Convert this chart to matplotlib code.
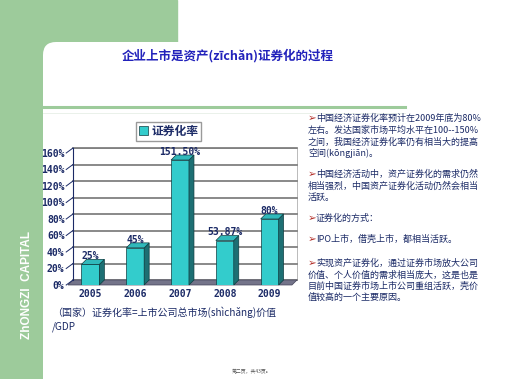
import matplotlib.pyplot as plt
from matplotlib.patches import Rectangle, FancyBboxPatch, Polygon
from matplotlib.lines import Line2D
import numpy as np

plt.rcParams['font.family'] = ['Noto Sans CJK SC', 'DejaVu Sans']

# data
years = ['2005', '2006', '2007', '2008', '2009']
rates = [25, 45, 151.5, 53.87, 80]
rate_labels = ['25%', '45%', '151.50%', '53.87%', '80%']
yticks = [0, 20, 40, 60, 80, 100, 120, 140, 160]
ytick_labels = ['%d%%' % t for t in yticks]
legend_label = '证券化率'

title = '企业上市是资产(zīchǎn)证券化的过程'
notes = [
    ['中国经济证券化率预计在2009年底为80%', '左右。发达国家市场平均水平在100--150%',
     '之间，我国经济证券化率仍有相当大的提高', '空间(kōngjiān)。'],
    ['中国经济活动中，资产证券化的需求仍然', '相当强烈，中国资产证券化活动仍然会相当', '活跃。'],
    ['证券化的方式：'],
    ['IPO上市，借壳上市，都相当活跃。'],
    ['实现资产证券化，通过证券市场放大公司', '价值、个人价值的需求相当庞大，这是也是',
     '目前中国证券市场上市公司重组活跃，壳价', '值较高的一个主要原因。'],
]
note_y = [[118, 130.5, 142, 153], [174, 186, 197], [218], [239], [263, 275, 286, 297]]

W, H = 505, 379
green = '#9dcb9b'
navy = '#1b2a66'
face = '#33cccc'
side = '#1d6f73'
top = '#30b9bb'


def fx(x):
    return x / W


def fy(y):
    return 1 - y / H


fig = plt.figure(figsize=(W / 100, H / 100), dpi=100)
fig.patch.set_facecolor('white')

# slide background
inch = fig.dpi_scale_trans
fig.add_artist(Rectangle((0, 0), 0.6, 3.79, transform=inch, color=green, zorder=-3))
fig.add_artist(Rectangle((0, 3.2), 1.77, 0.59, transform=inch, color=green, zorder=-3))
fig.add_artist(FancyBboxPatch((0.43, -1), 6, 4.37, boxstyle='round,pad=0,rounding_size=0.13',
                              transform=inch, fc='white', ec='none', zorder=-2))
fig.add_artist(Line2D([0.43, 4.05], [2.72, 2.72], transform=inch, color=green, lw=2.2, zorder=-1))
fig.add_artist(Line2D([0.43, 4.05], [2.66, 2.66], transform=inch, color='#e6efe6', lw=0.6, zorder=-1))

fig.text(fx(228), fy(56), title, ha='center', va='center', fontsize=9,
         weight='bold', color='#2222bb')
fig.text(fx(27), fy(285), 'ZhONGZI  CAPITAL', rotation=90, ha='center', va='center',
         color='white', fontsize=8.5, family='Liberation Sans', weight='bold')

# chart
ax = fig.add_axes([fx(68), fy(285), 224 / W, 132 / H])
ax.set_zorder(2)
ax.set_xlim(-0.5, 4.5)
ax.set_ylim(0, 160)
for s in ax.spines.values():
    s.set_visible(False)
ax.patch.set_alpha(0)

x = np.arange(len(years))
bw = 0.4
dx = 5 / (224 / 5)
dy = 5 / (132 / 160)

# back wall, floor, grid
ax.add_patch(Rectangle((-0.5 + dx, dy), 5, 160, fc='white', ec='#b0b0b0', lw=0.6,
                       clip_on=False, zorder=0))
for t in yticks:
    ax.plot([-0.5 + dx, 4.5 + dx], [t + dy, t + dy], color='#767676', lw=1.2,
            clip_on=False, zorder=1)
    ax.plot([-0.5 - 0.04, -0.5 + dx], [t, t + dy], color=navy, lw=0.7, clip_on=False, zorder=2)
ax.add_patch(Polygon([(-0.5, 0), (4.5, 0), (4.5 + dx, dy), (-0.5 + dx, dy)],
                     closed=True, fc='#74748a', ec='#44445a', lw=0.5, clip_on=False, zorder=1))
ax.plot([-0.5 + dx, -0.5 + dx], [dy, 160 + dy], color=navy, lw=0.8, clip_on=False, zorder=2)

# 3d bars
bars = ax.bar(x, rates, width=bw, color=face, edgecolor='#0f3c40', lw=0.5, zorder=3)
for xi, h in zip(x, rates):
    r = xi + bw / 2
    l = xi - bw / 2
    ax.add_patch(Polygon([(r, 0), (r + dx, dy), (r + dx, h + dy), (r, h)], closed=True,
                         fc=side, ec='#0f3c40', lw=0.5, clip_on=False, zorder=3))
    ax.add_patch(Polygon([(l, h), (r, h), (r + dx, h + dy), (l + dx, h + dy)], closed=True,
                         fc=top, ec='#0f3c40', lw=0.5, clip_on=False, zorder=3))

for xi, h, lbl in zip(x, rates, rate_labels):
    ax.annotate(lbl, (xi, h), xytext=(0, 6), textcoords='offset points', ha='center',
                va='center', family='DejaVu Sans Mono', weight='bold', fontsize=7,
                color=navy, zorder=5, annotation_clip=False)

ax.set_yticks(yticks, ytick_labels)
ax.set_xticks(x, years)
ax.tick_params(length=0)
ax.tick_params(axis='y', pad=2.5)
ax.tick_params(axis='x', pad=3)
for lab in ax.get_xticklabels() + ax.get_yticklabels():
    lab.set_family('DejaVu Sans Mono')
    lab.set_weight('bold')
    lab.set_fontsize(7)
    lab.set_color(navy)

leg = ax.legend([Rectangle((0, 0), 1, 1, fc=face, ec='#0f3c40', lw=0.5)], [legend_label],
                loc='center', bbox_to_anchor=(fx(168.5), fy(131.5)),
                bbox_transform=fig.transFigure, fancybox=False, framealpha=1,
                edgecolor='#9a9a9a', handlelength=0.8, handleheight=0.8,
                borderpad=0.25, handletextpad=0.3,
                prop=dict(family='Noto Sans CJK SC', weight='bold', size=8.5))
for t in leg.get_texts():
    t.set_color(navy)

# right notes
for para, ys in zip(notes, note_y):
    fig.text(fx(308), fy(ys[0]), '➢', ha='left', va='center', fontsize=7.5,
             family='DejaVu Sans', color='#b3302a')
    for i, (line, y) in enumerate(zip(para, ys)):
        fig.text(fx(316 if i == 0 else 308), fy(y), line, ha='left', va='center',
                 fontsize=6.5, color=navy)

# caption and footer
fig.text(fx(52), fy(312), '（国家）证券化率=上市公司总市场(shìchǎng)价值', ha='left',
         va='center', fontsize=7.2, color=navy)
fig.text(fx(52), fy(327), '/GDP', ha='left', va='center', fontsize=7.2, color=navy)
fig.text(fx(252), fy(372), '第二页，共43页。', ha='center', va='center', fontsize=3.5,
         color='#555555')

fig.savefig('out.png', dpi=100)
